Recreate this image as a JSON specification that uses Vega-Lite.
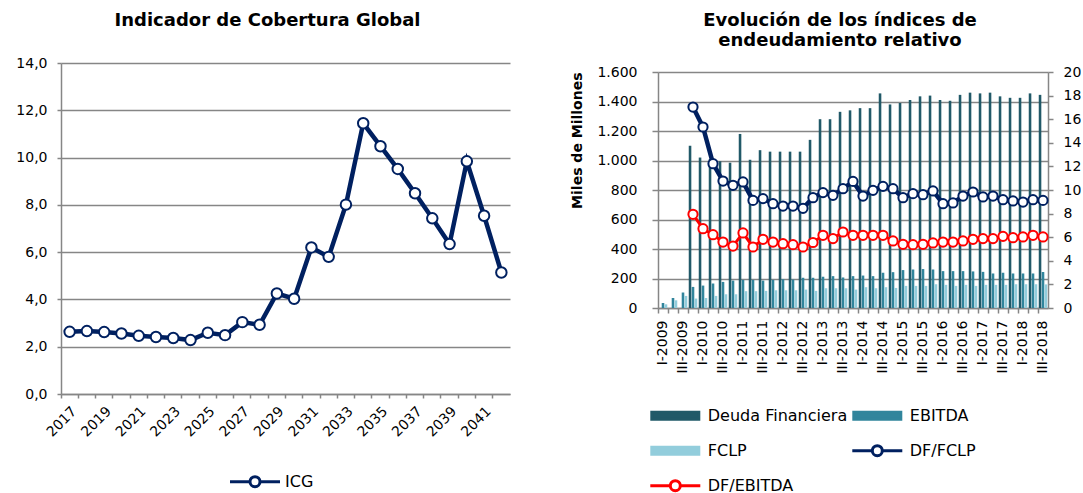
{
  "$schema": "https://vega.github.io/schema/vega-lite/v6.json",
  "background": "white",
  "padding": {"left": 15, "top": 12, "right": 0, "bottom": 0},
  "resolve": {"scale": {"color": "independent"}, "legend": {"color": "independent"}},
  "config": {
    "font": "DejaVu Sans",
    "view": {"stroke": null},
    "concat": {"spacing": 59},
    "axis": {"labelFont": "DejaVu Sans", "labelFontSize": 14, "labelColor": "#000000", "domainColor": "#868686", "tickColor": "#868686", "gridColor": "#868686", "domainWidth": 1.5, "tickWidth": 1.5, "gridWidth": 1.5, "titleFont": "DejaVu Sans", "titleColor": "#000000", "labelOverlap": false},
    "legend": {"labelFont": "DejaVu Sans", "labelFontSize": 16, "labelColor": "#000000", "padding": 0},
    "title": {"font": "DejaVu Sans", "fontSize": 18, "fontWeight": "bold", "color": "#000000", "frame": "group"}
  },
  "datasets": {
    "icg": [
      {"year": "2017", "icg": 2.63}, {"year": "2018", "icg": 2.66}, {"year": "2019", "icg": 2.62}, {"year": "2020", "icg": 2.56},
      {"year": "2021", "icg": 2.46}, {"year": "2022", "icg": 2.41}, {"year": "2023", "icg": 2.37}, {"year": "2024", "icg": 2.28},
      {"year": "2025", "icg": 2.59}, {"year": "2026", "icg": 2.49}, {"year": "2027", "icg": 3.04}, {"year": "2028", "icg": 2.93},
      {"year": "2029", "icg": 4.25}, {"year": "2030", "icg": 4.03}, {"year": "2031", "icg": 6.20}, {"year": "2032", "icg": 5.80},
      {"year": "2033", "icg": 8.01}, {"year": "2034", "icg": 11.45}, {"year": "2035", "icg": 10.48}, {"year": "2036", "icg": 9.52},
      {"year": "2037", "icg": 8.49}, {"year": "2038", "icg": 7.43}, {"year": "2039", "icg": 6.34}, {"year": "2040", "icg": 9.84},
      {"year": "2041", "icg": 7.54}, {"year": "2042", "icg": 5.14}
    ],
    "bars": [
      {"q": "I-2009", "series": "EBITDA", "value": 34}, {"q": "I-2009", "series": "FCLP", "value": 25},
      {"q": "II-2009", "series": "EBITDA", "value": 68}, {"q": "II-2009", "series": "FCLP", "value": 52},
      {"q": "III-2009", "series": "EBITDA", "value": 105}, {"q": "III-2009", "series": "FCLP", "value": 82},
      {"q": "IV-2009", "series": "Deuda Financiera", "value": 1100}, {"q": "IV-2009", "series": "EBITDA", "value": 143}, {"q": "IV-2009", "series": "FCLP", "value": 64},
      {"q": "I-2010", "series": "Deuda Financiera", "value": 1020}, {"q": "I-2010", "series": "EBITDA", "value": 152}, {"q": "I-2010", "series": "FCLP", "value": 68},
      {"q": "II-2010", "series": "Deuda Financiera", "value": 1010}, {"q": "II-2010", "series": "EBITDA", "value": 166}, {"q": "II-2010", "series": "FCLP", "value": 82},
      {"q": "III-2010", "series": "Deuda Financiera", "value": 995}, {"q": "III-2010", "series": "EBITDA", "value": 177}, {"q": "III-2010", "series": "FCLP", "value": 93},
      {"q": "IV-2010", "series": "Deuda Financiera", "value": 985}, {"q": "IV-2010", "series": "EBITDA", "value": 186}, {"q": "IV-2010", "series": "FCLP", "value": 93},
      {"q": "I-2011", "series": "Deuda Financiera", "value": 1180}, {"q": "I-2011", "series": "EBITDA", "value": 191}, {"q": "I-2011", "series": "FCLP", "value": 114},
      {"q": "II-2011", "series": "Deuda Financiera", "value": 1005}, {"q": "II-2011", "series": "EBITDA", "value": 191}, {"q": "II-2011", "series": "FCLP", "value": 114},
      {"q": "III-2011", "series": "Deuda Financiera", "value": 1070}, {"q": "III-2011", "series": "EBITDA", "value": 186}, {"q": "III-2011", "series": "FCLP", "value": 116},
      {"q": "IV-2011", "series": "Deuda Financiera", "value": 1060}, {"q": "IV-2011", "series": "EBITDA", "value": 191}, {"q": "IV-2011", "series": "FCLP", "value": 120},
      {"q": "I-2012", "series": "Deuda Financiera", "value": 1060}, {"q": "I-2012", "series": "EBITDA", "value": 195}, {"q": "I-2012", "series": "FCLP", "value": 120},
      {"q": "II-2012", "series": "Deuda Financiera", "value": 1060}, {"q": "II-2012", "series": "EBITDA", "value": 193}, {"q": "II-2012", "series": "FCLP", "value": 120},
      {"q": "III-2012", "series": "Deuda Financiera", "value": 1060}, {"q": "III-2012", "series": "EBITDA", "value": 205}, {"q": "III-2012", "series": "FCLP", "value": 125},
      {"q": "IV-2012", "series": "Deuda Financiera", "value": 1140}, {"q": "IV-2012", "series": "EBITDA", "value": 205}, {"q": "IV-2012", "series": "FCLP", "value": 116},
      {"q": "I-2013", "series": "Deuda Financiera", "value": 1280}, {"q": "I-2013", "series": "EBITDA", "value": 212}, {"q": "I-2013", "series": "FCLP", "value": 134},
      {"q": "II-2013", "series": "Deuda Financiera", "value": 1280}, {"q": "II-2013", "series": "EBITDA", "value": 216}, {"q": "II-2013", "series": "FCLP", "value": 134},
      {"q": "III-2013", "series": "Deuda Financiera", "value": 1330}, {"q": "III-2013", "series": "EBITDA", "value": 207}, {"q": "III-2013", "series": "FCLP", "value": 134},
      {"q": "IV-2013", "series": "Deuda Financiera", "value": 1340}, {"q": "IV-2013", "series": "EBITDA", "value": 216}, {"q": "IV-2013", "series": "FCLP", "value": 125},
      {"q": "I-2014", "series": "Deuda Financiera", "value": 1355}, {"q": "I-2014", "series": "EBITDA", "value": 220}, {"q": "I-2014", "series": "FCLP", "value": 141},
      {"q": "II-2014", "series": "Deuda Financiera", "value": 1355}, {"q": "II-2014", "series": "EBITDA", "value": 216}, {"q": "II-2014", "series": "FCLP", "value": 134},
      {"q": "III-2014", "series": "Deuda Financiera", "value": 1455}, {"q": "III-2014", "series": "EBITDA", "value": 239}, {"q": "III-2014", "series": "FCLP", "value": 141},
      {"q": "IV-2014", "series": "Deuda Financiera", "value": 1380}, {"q": "IV-2014", "series": "EBITDA", "value": 243}, {"q": "IV-2014", "series": "FCLP", "value": 136},
      {"q": "I-2015", "series": "Deuda Financiera", "value": 1390}, {"q": "I-2015", "series": "EBITDA", "value": 257}, {"q": "I-2015", "series": "FCLP", "value": 150},
      {"q": "II-2015", "series": "Deuda Financiera", "value": 1410}, {"q": "II-2015", "series": "EBITDA", "value": 261}, {"q": "II-2015", "series": "FCLP", "value": 150},
      {"q": "III-2015", "series": "Deuda Financiera", "value": 1435}, {"q": "III-2015", "series": "EBITDA", "value": 264}, {"q": "III-2015", "series": "FCLP", "value": 150},
      {"q": "IV-2015", "series": "Deuda Financiera", "value": 1440}, {"q": "IV-2015", "series": "EBITDA", "value": 261}, {"q": "IV-2015", "series": "FCLP", "value": 161},
      {"q": "I-2016", "series": "Deuda Financiera", "value": 1410}, {"q": "I-2016", "series": "EBITDA", "value": 250}, {"q": "I-2016", "series": "FCLP", "value": 157},
      {"q": "II-2016", "series": "Deuda Financiera", "value": 1405}, {"q": "II-2016", "series": "EBITDA", "value": 250}, {"q": "II-2016", "series": "FCLP", "value": 150},
      {"q": "III-2016", "series": "Deuda Financiera", "value": 1445}, {"q": "III-2016", "series": "EBITDA", "value": 250}, {"q": "III-2016", "series": "FCLP", "value": 157},
      {"q": "IV-2016", "series": "Deuda Financiera", "value": 1460}, {"q": "IV-2016", "series": "EBITDA", "value": 248}, {"q": "IV-2016", "series": "FCLP", "value": 150},
      {"q": "I-2017", "series": "Deuda Financiera", "value": 1455}, {"q": "I-2017", "series": "EBITDA", "value": 245}, {"q": "I-2017", "series": "FCLP", "value": 157},
      {"q": "II-2017", "series": "Deuda Financiera", "value": 1460}, {"q": "II-2017", "series": "EBITDA", "value": 234}, {"q": "II-2017", "series": "FCLP", "value": 157},
      {"q": "III-2017", "series": "Deuda Financiera", "value": 1435}, {"q": "III-2017", "series": "EBITDA", "value": 239}, {"q": "III-2017", "series": "FCLP", "value": 157},
      {"q": "IV-2017", "series": "Deuda Financiera", "value": 1425}, {"q": "IV-2017", "series": "EBITDA", "value": 234}, {"q": "IV-2017", "series": "FCLP", "value": 161},
      {"q": "I-2018", "series": "Deuda Financiera", "value": 1425}, {"q": "I-2018", "series": "EBITDA", "value": 234}, {"q": "I-2018", "series": "FCLP", "value": 161},
      {"q": "II-2018", "series": "Deuda Financiera", "value": 1455}, {"q": "II-2018", "series": "EBITDA", "value": 234}, {"q": "II-2018", "series": "FCLP", "value": 161},
      {"q": "III-2018", "series": "Deuda Financiera", "value": 1445}, {"q": "III-2018", "series": "EBITDA", "value": 244}, {"q": "III-2018", "series": "FCLP", "value": 160}
    ],
    "lines": [
      {"q": "IV-2009", "series": "DF/FCLP", "value": 17.03}, {"q": "IV-2009", "series": "DF/EBITDA", "value": 7.94},
      {"q": "I-2010", "series": "DF/FCLP", "value": 15.34}, {"q": "I-2010", "series": "DF/EBITDA", "value": 6.72},
      {"q": "II-2010", "series": "DF/FCLP", "value": 12.23}, {"q": "II-2010", "series": "DF/EBITDA", "value": 6.21},
      {"q": "III-2010", "series": "DF/FCLP", "value": 10.76}, {"q": "III-2010", "series": "DF/EBITDA", "value": 5.59},
      {"q": "IV-2010", "series": "DF/FCLP", "value": 10.40}, {"q": "IV-2010", "series": "DF/EBITDA", "value": 5.25},
      {"q": "I-2011", "series": "DF/FCLP", "value": 10.68}, {"q": "I-2011", "series": "DF/EBITDA", "value": 6.36},
      {"q": "II-2011", "series": "DF/FCLP", "value": 9.12}, {"q": "II-2011", "series": "DF/EBITDA", "value": 5.17},
      {"q": "III-2011", "series": "DF/FCLP", "value": 9.27}, {"q": "III-2011", "series": "DF/EBITDA", "value": 5.82},
      {"q": "IV-2011", "series": "DF/FCLP", "value": 8.84}, {"q": "IV-2011", "series": "DF/EBITDA", "value": 5.59},
      {"q": "I-2012", "series": "DF/FCLP", "value": 8.64}, {"q": "I-2012", "series": "DF/EBITDA", "value": 5.45},
      {"q": "II-2012", "series": "DF/FCLP", "value": 8.64}, {"q": "II-2012", "series": "DF/EBITDA", "value": 5.37},
      {"q": "III-2012", "series": "DF/FCLP", "value": 8.45}, {"q": "III-2012", "series": "DF/EBITDA", "value": 5.17},
      {"q": "IV-2012", "series": "DF/FCLP", "value": 9.35}, {"q": "IV-2012", "series": "DF/EBITDA", "value": 5.55},
      {"q": "I-2013", "series": "DF/FCLP", "value": 9.78}, {"q": "I-2013", "series": "DF/EBITDA", "value": 6.16},
      {"q": "II-2013", "series": "DF/FCLP", "value": 9.55}, {"q": "II-2013", "series": "DF/EBITDA", "value": 5.88},
      {"q": "III-2013", "series": "DF/FCLP", "value": 10.11}, {"q": "III-2013", "series": "DF/EBITDA", "value": 6.44},
      {"q": "IV-2013", "series": "DF/FCLP", "value": 10.73}, {"q": "IV-2013", "series": "DF/EBITDA", "value": 6.16},
      {"q": "I-2014", "series": "DF/FCLP", "value": 9.49}, {"q": "I-2014", "series": "DF/EBITDA", "value": 6.16},
      {"q": "II-2014", "series": "DF/FCLP", "value": 9.97}, {"q": "II-2014", "series": "DF/EBITDA", "value": 6.16},
      {"q": "III-2014", "series": "DF/FCLP", "value": 10.31}, {"q": "III-2014", "series": "DF/EBITDA", "value": 6.16},
      {"q": "IV-2014", "series": "DF/FCLP", "value": 10.11}, {"q": "IV-2014", "series": "DF/EBITDA", "value": 5.68},
      {"q": "I-2015", "series": "DF/FCLP", "value": 9.35}, {"q": "I-2015", "series": "DF/EBITDA", "value": 5.40},
      {"q": "II-2015", "series": "DF/FCLP", "value": 9.69}, {"q": "II-2015", "series": "DF/EBITDA", "value": 5.37},
      {"q": "III-2015", "series": "DF/FCLP", "value": 9.60}, {"q": "III-2015", "series": "DF/EBITDA", "value": 5.40},
      {"q": "IV-2015", "series": "DF/FCLP", "value": 9.92}, {"q": "IV-2015", "series": "DF/EBITDA", "value": 5.51},
      {"q": "I-2016", "series": "DF/FCLP", "value": 8.84}, {"q": "I-2016", "series": "DF/EBITDA", "value": 5.59},
      {"q": "II-2016", "series": "DF/FCLP", "value": 8.90}, {"q": "II-2016", "series": "DF/EBITDA", "value": 5.59},
      {"q": "III-2016", "series": "DF/FCLP", "value": 9.49}, {"q": "III-2016", "series": "DF/EBITDA", "value": 5.68},
      {"q": "IV-2016", "series": "DF/FCLP", "value": 9.83}, {"q": "IV-2016", "series": "DF/EBITDA", "value": 5.82},
      {"q": "I-2017", "series": "DF/FCLP", "value": 9.41}, {"q": "I-2017", "series": "DF/EBITDA", "value": 5.88},
      {"q": "II-2017", "series": "DF/FCLP", "value": 9.49}, {"q": "II-2017", "series": "DF/EBITDA", "value": 5.88},
      {"q": "III-2017", "series": "DF/FCLP", "value": 9.18}, {"q": "III-2017", "series": "DF/EBITDA", "value": 6.07},
      {"q": "IV-2017", "series": "DF/FCLP", "value": 9.07}, {"q": "IV-2017", "series": "DF/EBITDA", "value": 5.96},
      {"q": "I-2018", "series": "DF/FCLP", "value": 8.98}, {"q": "I-2018", "series": "DF/EBITDA", "value": 6.02},
      {"q": "II-2018", "series": "DF/FCLP", "value": 9.18}, {"q": "II-2018", "series": "DF/EBITDA", "value": 6.16},
      {"q": "III-2018", "series": "DF/FCLP", "value": 9.12}, {"q": "III-2018", "series": "DF/EBITDA", "value": 6.02}
    ]
  },
  "hconcat": [
    {
      "width": 449,
      "height": 331,
      "title": {"text": "Indicador de Cobertura Global", "offset": 26, "dx": -18},
      "data": {"name": "icg"},
      "encoding": {
        "x": {"field": "year", "type": "ordinal", "scale": {"type": "band", "paddingInner": 0, "paddingOuter": 0},
          "axis": {"title": null, "tickSize": 4, "bandPosition": 0, "labelAngle": -45, "labelPadding": 6, "grid": false,
            "labelExpr": "(toNumber(datum.value) - 2017) % 2 == 0 ? datum.value : ''"}},
        "y": {"field": "icg", "type": "quantitative", "scale": {"domain": [0, 14]},
          "axis": {"title": null, "values": [0, 2, 4, 6, 8, 10, 12, 14], "labelExpr": "replace(format(datum.value, '.1f'), '.', ',')", "tickSize": 4, "labelPadding": 10, "grid": true}}
      },
      "layer": [
        {
          "mark": {"type": "line", "strokeWidth": 4.5},
          "encoding": {
            "color": {
              "datum": "ICG", "type": "nominal", "scale": {"domain": ["ICG"], "range": ["#002060"]},
              "legend": {
                "title": null, "orient": "none", "legendX": 167.5, "legendY": 408.7, "clipHeight": 20, "symbolSize": 2500, "symbolStrokeWidth": 3, "symbolFillColor": "#ffffff",
                "symbolType": "M-1,0H-0.2A0.2,0.2 0 1,1 0.2,0A0.2,0.2 0 1,1 -0.2,0M0.2,0H1", "labelOffset": 3.5, "labelFontSize": 16, "padding": 0,
                "encode": {
                  "symbols": {
                    "update": {
                      "shape": {"value": "M-1,0H-0.2A0.2,0.2 0 1,1 0.2,0A0.2,0.2 0 1,1 -0.2,0M0.2,0H1"},
                      "fill": {"value": "#ffffff"},
                      "stroke": {"value": "#002060"},
                      "strokeWidth": {"value": 3},
                      "size": {"value": 2500},
                      "opacity": {"value": 1}
                    }
                  }
                }
              }
            }
          }
        },
        {
          "mark": {"type": "point", "filled": false, "fill": "#ffffff", "stroke": "#002060", "strokeWidth": 2, "size": 110, "opacity": 1}
        }
      ]
    },
    {
      "width": 390,
      "height": 245,
      "title": {"text": ["Evolución de los índices de", "endeudamiento relativo"], "offset": 12.8, "dx": -13, "lineHeight": 20},
      "encoding": {
        "x": {"field": "q", "type": "ordinal",
          "scale": {"type": "band", "paddingInner": 0, "paddingOuter": 0, "domain": ["I-2009", "II-2009", "III-2009", "IV-2009", "I-2010", "II-2010", "III-2010", "IV-2010", "I-2011", "II-2011", "III-2011", "IV-2011", "I-2012", "II-2012", "III-2012", "IV-2012", "I-2013", "II-2013", "III-2013", "IV-2013", "I-2014", "II-2014", "III-2014", "IV-2014", "I-2015", "II-2015", "III-2015", "IV-2015", "I-2016", "II-2016", "III-2016", "IV-2016", "I-2017", "II-2017", "III-2017", "IV-2017", "I-2018", "II-2018", "III-2018"]},
          "axis": {"title": null, "tickSize": 5, "bandPosition": 0, "labelAngle": -90, "labelPadding": 7, "grid": false,
            "labelExpr": "indexof(datum.value, 'I-') == 0 || indexof(datum.value, 'III-') == 0 ? datum.value : ''"}}
      },
      "layer": [
        {
          "data": {"name": "bars"},
          "mark": {"type": "bar"},
          "encoding": {
            "xOffset": {"field": "series", "type": "nominal", "scale": {"domain": ["Deuda Financiera", "EBITDA", "FCLP"], "paddingInner": 0.13, "paddingOuter": 0.25}},
            "y": {"field": "value", "type": "quantitative", "stack": null, "scale": {"domain": [0, 1600], "range": [245, 9]},
              "axis": {"title": "Miles de Millones", "values": [0, 200, 400, 600, 800, 1000, 1200, 1400, 1600], "labelExpr": "replace(format(datum.value, ','), ',', '.')", "grid": true, "tickSize": 6, "labelPadding": 15,
                "titleFontSize": 14, "titleFontWeight": "bold", "titlePadding": 12, "titleAnchor": "end"}},
            "fill": {"field": "series", "type": "nominal",
              "scale": {"domain": ["Deuda Financiera", "EBITDA", "FCLP"], "range": ["#215968", "#31859C", "#92CDDC"]},
              "legend": null}
          }
        },
        {
          "data": {"name": "lines"},
          "encoding": {
            "y": {"field": "value", "type": "quantitative", "scale": {"domain": [0, 20], "range": [245, 9]},
              "axis": {"orient": "right", "title": null, "values": [0, 2, 4, 6, 8, 10, 12, 14, 16, 18, 20], "grid": false, "tickSize": 5, "labelPadding": 10}},
            "color": {
              "field": "series", "type": "nominal",
              "scale": {"domain": ["Deuda Financiera", "FCLP", "DF/EBITDA", "EBITDA", "DF/FCLP"], "range": ["#215968", "#92CDDC", "#FF0000", "#31859C", "#002060"]},
              "legend": {
                "title": null, "orient": "none", "legendX": -9.2, "legendY": 342.7, "columns": 2, "columnPadding": 3, "rowPadding": 15, "clipHeight": 20, "symbolSize": 2500, "symbolStrokeWidth": 3,
                "symbolType": "M-0.94,-0.14H0.94V0.14H-0.94Z", "labelOffset": 6, "labelFontSize": 16, "padding": 0,
                "encode": {
                  "symbols": {
                    "update": {
                      "shape": {"signal": "indexof(datum.value, 'DF/') == 0 ? 'M-1,0H-0.2A0.2,0.2 0 1,1 0.2,0A0.2,0.2 0 1,1 -0.2,0M0.2,0H1' : 'M-0.94,-0.14H0.94V0.14H-0.94Z'"},
                      "fill": {"signal": "datum.value == 'Deuda Financiera' ? '#215968' : datum.value == 'EBITDA' ? '#31859C' : datum.value == 'FCLP' ? '#92CDDC' : '#ffffff'"},
                      "strokeWidth": {"value": 3},
                      "size": {"value": 2500},
                      "opacity": {"value": 1}
                    }
                  }
                }
              }
            }
          },
          "layer": [
            {
              "mark": {"type": "line"},
              "encoding": {"strokeWidth": {"field": "series", "type": "ordinal", "scale": {"domain": ["DF/FCLP", "DF/EBITDA"], "range": [4.5, 3]}, "legend": null}}
            },
            {
              "mark": {"type": "point", "filled": false, "fill": "#ffffff", "strokeWidth": 2, "size": 85, "opacity": 1}
            }
          ]
        }
      ],
      "resolve": {"scale": {"y": "independent"}}
    }
  ]
}
